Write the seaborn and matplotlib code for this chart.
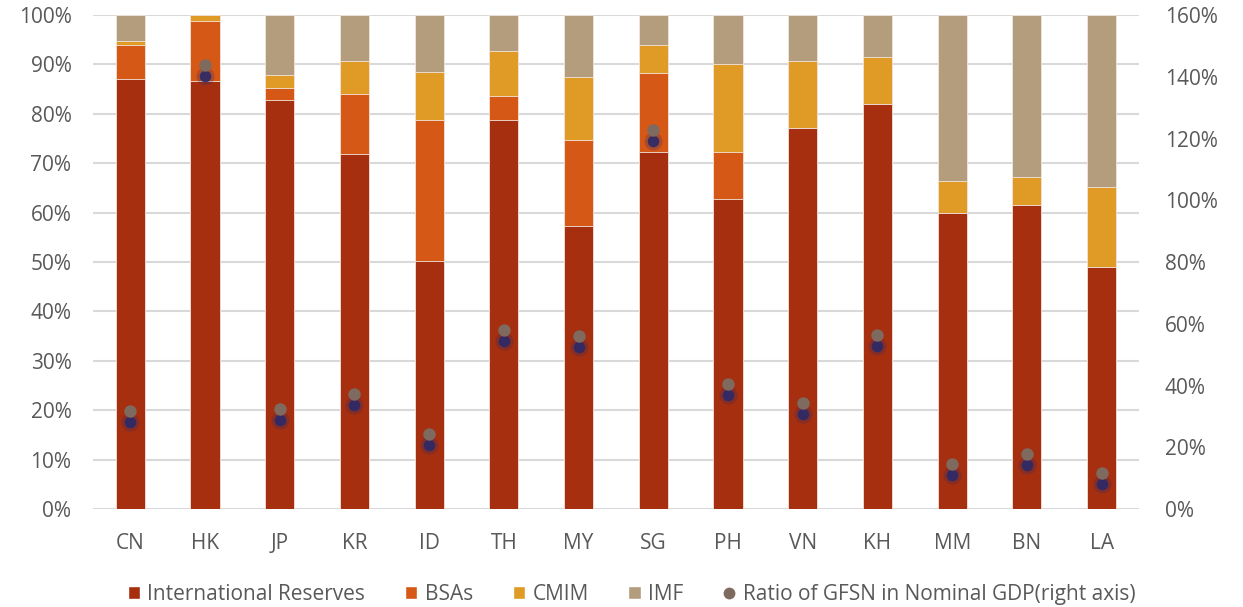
import numpy as np
import pandas as pd
import matplotlib
matplotlib.use("Agg")
import matplotlib.pyplot as plt
import matplotlib.transforms as mtransforms
from matplotlib.lines import Line2D
from matplotlib.patches import Patch
from matplotlib.ticker import PercentFormatter
import seaborn as sns

sns.set_theme(style="white")
plt.rcParams["font.family"] = ["Open Sans", "DejaVu Sans"]

# ── Données ──────────────────────────────────────────────────
COUNTRIES = ["CN", "HK", "JP", "KR", "ID", "TH", "MY",
             "SG", "PH", "VN", "KH", "MM", "BN", "LA"]
RESERVES = [87.1, 86.7, 82.8, 71.9, 50.3, 78.8, 57.3,
            72.3, 62.8, 77.2, 81.9, 59.9, 61.5, 49.0]
BSAS = [6.8, 12.0, 2.4, 12.2, 28.5, 4.9, 17.3,
        16.0, 9.5, 0.0, 0.0, 0.0, 0.0, 0.0]
CMIM = [0.9, 1.3, 2.7, 6.5, 9.6, 9.0, 12.9,
        5.7, 17.8, 13.4, 9.5, 6.4, 5.7, 16.1]
IMF = [5.2, 0.0, 12.1, 9.4, 11.6, 7.3, 12.5,
       6.0, 9.9, 9.4, 8.6, 33.7, 32.8, 34.9]
GFSN_GDP = [31.7, 143.8, 32.4, 37.2, 24.2, 58.0, 56.1,
            122.8, 40.5, 34.4, 56.4, 14.5, 17.9, 11.8]

SERIES = ["International Reserves", "BSAs", "CMIM", "IMF"]
COLORS = ["#A52F0F", "#D55816", "#E09A26", "#B39D7D"]
TXT = "#595959"
FS = 15

df = pd.DataFrame({"country": COUNTRIES, "International Reserves": RESERVES,
                   "BSAs": BSAS, "CMIM": CMIM, "IMF": IMF, "ratio": GFSN_GDP})

fig = plt.figure(figsize=(12.43, 6.07), dpi=100)
ax = fig.add_axes([0.0748, 0.1614, 0.8415, 0.8139])

# barres empilées : on trace les cumuls du plus haut au plus bas
cum = df[SERIES].cumsum(axis=1)
for name, color in reversed(list(zip(SERIES, COLORS))):
    sns.barplot(x=df["country"], y=cum[name], color=color, width=0.39,
                edgecolor="#F2E6DF", linewidth=0.6, saturation=1, ax=ax,
                zorder=3)

ax.set_ylim(0, 100)
ax.set_xlim(-0.5, len(COUNTRIES) - 0.5)
ax.set_yticks(np.arange(0, 101, 10))
ax.yaxis.set_major_formatter(PercentFormatter(decimals=0))
ax.grid(axis="y", color="#D9D9D9", linewidth=1.5, zorder=0)
ax.set_axisbelow(True)
for s in ax.spines.values():
    s.set_visible(False)
ax.set_xlabel("")
ax.set_ylabel("")
ax.tick_params(axis="y", length=0, pad=15.5, labelsize=FS, labelcolor=TXT)
ax.tick_params(axis="x", length=0, pad=17, labelsize=FS, labelcolor=TXT)

# axe de droite : ratio GFSN / PIB
ax2 = ax.twinx()
ax2.set_ylim(0, 160)
ax2.set_yticks(np.arange(0, 161, 20))
ax2.yaxis.set_major_formatter(PercentFormatter(decimals=0))
for s in ax2.spines.values():
    s.set_visible(False)
ax2.tick_params(axis="y", length=0, pad=18.5, labelsize=FS, labelcolor=TXT)

xs = np.arange(len(COUNTRIES))
shadow = mtransforms.offset_copy(ax2.transData, fig=fig, x=0, y=-11, units="dots")
ax2.scatter(xs, df["ratio"], s=170, color="#2B2A6A", alpha=0.25,
            linewidths=0, transform=shadow, zorder=4)
ax2.scatter(xs, df["ratio"], s=70, color="#2B2A6A", alpha=0.9,
            linewidths=0, transform=shadow, zorder=4)
ax2.scatter(xs, df["ratio"], s=80, color="#7F6A60", linewidths=0, zorder=5)

handles = [Patch(facecolor=c, label=n) for n, c in zip(SERIES, COLORS)]
handles.append(Line2D([], [], marker="o", linestyle="none", markersize=8.5,
                      markerfacecolor="#7F6A60", markeredgewidth=0,
                      label="Ratio of GFSN in Nominal GDP(right axis)"))
leg = fig.legend(handles=handles, loc="center", bbox_to_anchor=(0.508, 0.021),
                 ncol=5, frameon=False, fontsize=FS, handlelength=0.6,
                 handleheight=0.6, handletextpad=0.35, columnspacing=1.9,
                 labelcolor=TXT)

fig.savefig("out.png", dpi=100)
plt.close(fig)
